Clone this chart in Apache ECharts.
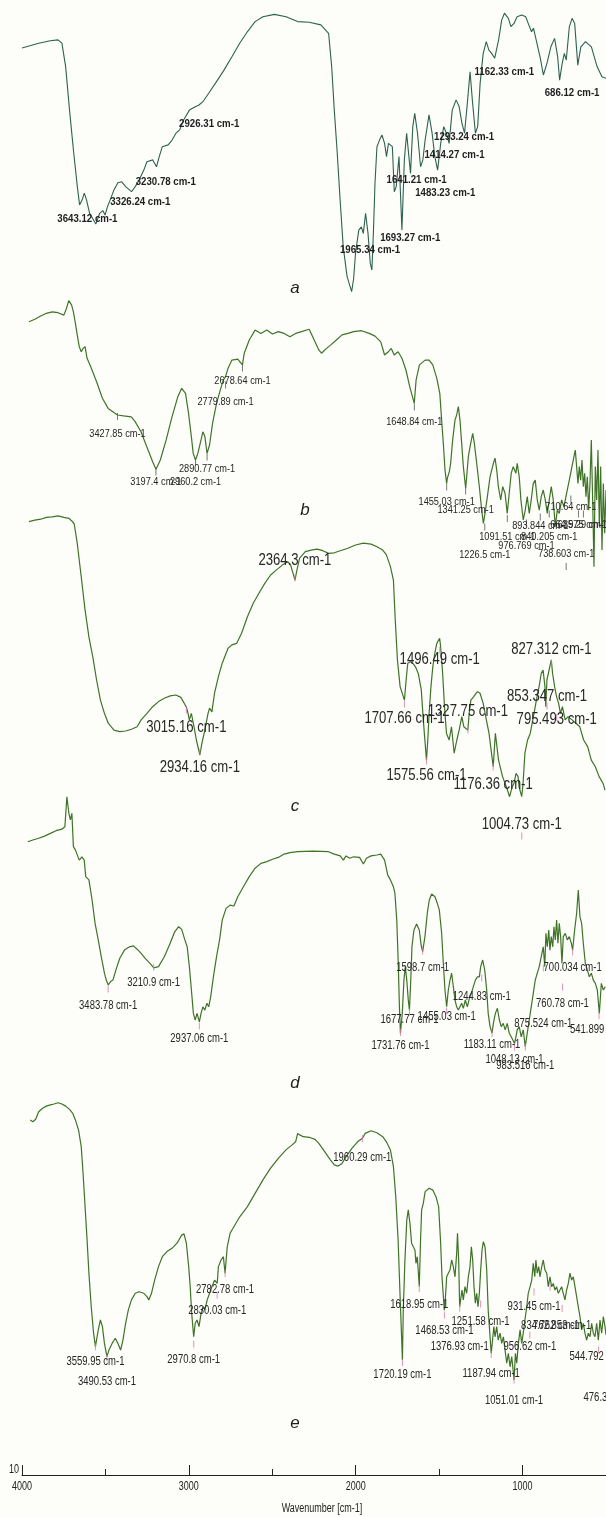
<!DOCTYPE html>
<html>
<head>
<meta charset="utf-8">
<script src="https://cdn.jsdelivr.net/npm/echarts@6/dist/echarts.min.js"></script>
<style>
  html, body { margin: 0; padding: 0; background: #fdfdfa; }
  #chart { width: 606px; height: 1517px; }
</style>
</head>
<body>
<div id="chart"></div>
<script>
// FTIR spectra, each point is [wavenumber (cm-1), relative transmittance]
const specA = [[4000,84],[3897,85.6],[3826,86.4],[3778,86.7],[3754,85.6],[3731,77.8],[3707,63.3],[3683,50],[3659,37.8],[3645,31.7],[3630,33.3],[3616,35.6],[3602,33.3],[3583,28.9],[3545,25.3],[3521,28.9],[3502,29.8],[3488,28.3],[3473,31.1],[3457,33.3],[3433,36.7],[3409,39.1],[3385,39.4],[3361,37.8],[3325,36.1],[3302,37.8],[3278,40],[3249,43.3],[3230,46.1],[3194,46.7],[3171,44.4],[3154,47.8],[3135,51.1],[3099,51.7],[3075,53.3],[3051,55.6],[3028,56.7],[3004,60],[2968,63.3],[2932,64.4],[2909,65],[2885,66.1],[2849,68.9],[2801,72.8],[2754,76.7],[2706,81.1],[2658,85.6],[2611,89.4],[2563,92.8],[2515,94.4],[2444,95.2],[2372,94.4],[2301,92.8],[2229,92.6],[2158,91.7],[2110,88.9],[2091,77.8],[2075,63.3],[2058,50],[2039,33.3],[2020,17.8],[1996,7.8],[1968,2.8],[1956,7],[1944,15.6],[1924,23.3],[1908,24.4],[1896,22.2],[1882,28.9],[1867,22.2],[1853,12.2],[1843,10],[1834,22.2],[1824,38.9],[1812,51.1],[1796,53.3],[1781,55],[1765,52.2],[1753,47.8],[1741,52.2],[1729,52.8],[1717,51.1],[1705,36.1],[1693,37.8],[1676,47.8],[1658,23.3],[1643,46.7],[1629,55.6],[1615,47.8],[1605,42.2],[1591,57.8],[1579,62.2],[1562,55.6],[1543,44.4],[1529,46.7],[1515,53.3],[1491,61.7],[1472,55.6],[1455,47.8],[1438,43.3],[1419,52.2],[1400,57.8],[1384,55.6],[1367,52.2],[1348,63.3],[1324,66.7],[1305,64.4],[1288,58.9],[1272,55.6],[1253,66.7],[1238,76.1],[1224,66.7],[1205,55.6],[1191,57.8],[1176,72.2],[1157,82.2],[1138,86.1],[1122,83.3],[1105,82.2],[1086,80.6],[1062,86.7],[1043,93.3],[1026,95.6],[1002,93.9],[986,91.1],[967,92.2],[948,94.4],[919,95],[895,94.4],[876,91.7],[859,89.4],[847,90.6],[828,86.1],[805,80.6],[786,75],[764,78.9],[740,84.4],[717,87.2],[698,81.1],[686,73.3],[670,78.9],[657,82.2],[645,80],[626,91.1],[609,93.9],[593,92.2],[574,78.3],[555,84.4],[526,86.1],[490,84.4],[455,77.8],[425,74.4],[400,73.9]];

const specB = [[3958,86.1],[3923,86.9],[3888,88],[3854,88.9],[3819,89.4],[3784,89.1],[3749,88.3],[3733,90.6],[3720,93.1],[3703,91.7],[3692,89.4],[3680,85.6],[3669,81.7],[3657,77.8],[3645,76.1],[3634,77.2],[3622,77.8],[3610,73.9],[3588,71.1],[3553,66.1],[3518,60.6],[3484,57.2],[3449,55.8],[3428,55],[3391,54.7],[3345,54.4],[3322,52.8],[3287,49.4],[3252,44.4],[3217,39.4],[3197,36.9],[3171,40],[3136,46.7],[3101,54.4],[3066,61.1],[3043,63.9],[3020,62.2],[3002,55.6],[2985,47.8],[2974,42.2],[2960,40],[2946,42.2],[2927,46.7],[2916,49.4],[2904,47.8],[2891,42.2],[2876,45],[2858,52.2],[2834,58.9],[2812,63.3],[2793,66.7],[2780,67.8],[2765,70.6],[2742,73.3],[2707,73.6],[2679,71.7],[2668,75.6],[2638,80],[2603,83.3],[2568,82.2],[2533,83.3],[2499,82],[2464,82.8],[2429,82.2],[2394,81.1],[2360,82.2],[2325,82.8],[2279,83.6],[2267,82.2],[2244,79.4],[2221,76.7],[2205,75.6],[2175,77.2],[2151,78.3],[2116,80],[2082,81.7],[2047,82.2],[2012,82.8],[1966,83.1],[1919,82.2],[1884,81.3],[1850,79.4],[1827,75],[1804,76.1],[1787,77.2],[1769,75],[1746,76.1],[1723,73.9],[1699,70],[1676,64.4],[1649,58.9],[1638,66.7],[1618,71.7],[1584,73.3],[1560,73.3],[1538,71.7],[1514,67.2],[1496,62.2],[1485,53.3],[1475,45.6],[1465,36.7],[1455,32.2],[1451,33.9],[1439,36.1],[1431,38.9],[1419,46.7],[1405,53.3],[1395,55],[1385,57.8],[1375,53.3],[1365,45.6],[1355,37.8],[1341,30.6],[1335,34.4],[1325,41.1],[1315,44.4],[1299,48.9],[1289,45.6],[1275,38.9],[1259,31.1],[1245,23.3],[1235,18.9],[1225,22.2],[1211,27.8],[1195,34.4],[1175,38.9],[1165,40.6],[1155,36.7],[1145,31.1],[1131,26.7],[1119,31.1],[1105,28.9],[1092,22.2],[1080,28.9],[1068,35.6],[1056,37.8],[1040,35.6],[1032,38.9],[1020,34.4],[1010,26.7],[996,20],[984,23.3],[972,27.8],[960,22.2],[948,26.7],[936,32.2],[924,33.3],[912,26.7],[900,23.3],[888,27.8],[876,30],[864,26.7],[852,22.2],[840,26.7],[828,31.1],[816,26.7],[804,17.8],[792,23.3],[780,22.2],[766,26.7],[752,24.4],[740,27.8],[728,31.1],[716,34.4],[704,37.8],[692,41.1],[684,43.3],[676,37.8],[668,32.2],[660,37.8],[652,33.3],[644,40],[636,31.1],[628,35.6],[620,27.8],[612,34.4],[604,23.3],[596,32.2],[588,46.7],[580,26.7],[572,4.4],[564,37.8],[556,26.7],[548,43.3],[540,17.8],[532,37.8],[524,10],[516,32.2],[508,15.6],[500,30]];

const specC = [[3958,92.8],[3923,93.3],[3888,93.6],[3854,94.2],[3819,94.4],[3784,94.7],[3749,94.2],[3719,93.9],[3703,93.1],[3687,92],[3669,85.6],[3645,74.4],[3622,63.3],[3599,54.4],[3576,47.8],[3553,40],[3530,33.3],[3506,28.9],[3483,25.6],[3449,23.3],[3414,22.8],[3379,23],[3344,23.6],[3310,24.4],[3286,26.7],[3251,28.9],[3217,31.1],[3182,32.8],[3147,33.9],[3112,34.7],[3078,35],[3048,34.2],[3015,31],[3005,28.9],[2997,26.7],[2985,28.9],[2969,24.4],[2955,20],[2934,15],[2922,18.9],[2904,23.3],[2885,28.9],[2876,30.6],[2862,29.4],[2846,35.6],[2823,41.1],[2800,45.6],[2765,50.6],[2742,51.7],[2714,52.2],[2684,55.6],[2649,61.1],[2614,65.6],[2580,68.9],[2545,72.2],[2510,75],[2475,76.7],[2440,78.3],[2406,79.4],[2390,78.3],[2376,75.6],[2364,73.3],[2352,76.7],[2336,80.6],[2302,82.8],[2267,83.3],[2232,83.6],[2197,83.1],[2163,82.2],[2128,82.4],[2093,83.1],[2047,83.9],[2001,85],[1954,85.6],[1908,85.3],[1873,84.4],[1838,83.3],[1816,81.7],[1792,77.8],[1774,73.3],[1764,61.1],[1750,46.7],[1734,37.8],[1708,33.3],[1698,40],[1688,45.6],[1672,46.1],[1658,45.6],[1642,44.4],[1625,42.2],[1607,36.7],[1595,26.7],[1576,13.3],[1568,20],[1560,28.9],[1549,37.8],[1538,44.4],[1526,48.9],[1514,52.2],[1497,53.9],[1491,51.1],[1479,42.2],[1468,31.1],[1456,22.2],[1440,20],[1426,24.4],[1410,15.6],[1394,20],[1380,23.3],[1364,27.8],[1352,24.4],[1328,23.3],[1320,28.9],[1310,33.3],[1294,34.4],[1271,36.1],[1255,35.6],[1236,32.2],[1217,26.7],[1201,22.2],[1176,11.1],[1163,22.2],[1144,13.3],[1120,7.8],[1097,4.4],[1078,1.1],[1062,4.4],[1051,5.6],[1039,8.9],[1027,7.8],[1021,4.4],[1005,1.1],[997,5.6],[986,15.6],[970,20],[954,22.2],[935,27.8],[917,33.3],[901,37.8],[888,42.2],[877,43.3],[866,37.8],[861,31.1],[854,40],[828,46.7],[820,42.2],[808,37.8],[796,34.4],[784,32.2],[773,28.9],[761,31.1],[745,26.7],[727,27.8],[703,26.7],[680,25.6],[657,24.4],[634,20],[610,17.8],[588,13.3],[564,11.1],[541,7.8],[518,5.6],[506,3.3]];

const specD = [[3965,79.4],[3935,80],[3900,80.6],[3865,81.3],[3830,82.2],[3796,83.1],[3761,83.6],[3743,84.4],[3731,94.4],[3719,88.9],[3710,86.7],[3701,88.9],[3692,77.8],[3680,76.7],[3669,76.1],[3657,73.3],[3641,74.4],[3627,73.3],[3618,67.8],[3599,66.7],[3580,60],[3562,52.2],[3543,46.7],[3525,41.1],[3506,35.6],[3495,33.3],[3483,31.7],[3469,32.8],[3455,33.3],[3437,36.7],[3414,40.6],[3386,43.3],[3356,44.4],[3332,44.7],[3310,43.6],[3286,42.2],[3263,40.6],[3233,38.9],[3210,37.4],[3182,37.8],[3147,41.1],[3112,45.6],[3085,49.4],[3061,51.1],[3043,50.2],[3024,46.7],[3010,44.4],[2997,37.8],[2983,28.9],[2973,22.2],[2962,20],[2951,22.2],[2937,19.4],[2927,22.2],[2916,24.4],[2904,23.3],[2892,25.6],[2881,24.4],[2869,27.8],[2853,34.4],[2834,41.1],[2816,46.7],[2800,53.3],[2777,57.2],[2753,58.3],[2730,58],[2707,61.1],[2673,64.4],[2638,67.8],[2603,70.6],[2568,72.2],[2533,72.8],[2499,73.6],[2464,74.2],[2429,75.3],[2394,75.8],[2348,76.1],[2302,76.2],[2255,76.3],[2209,76.2],[2163,76.1],[2128,75.3],[2093,74.7],[2074,73.3],[2058,74.7],[2036,73.9],[2012,74.4],[1977,74.2],[1954,72],[1936,73.9],[1908,74.7],[1873,75],[1850,75.3],[1827,73.3],[1808,68.3],[1792,66.7],[1774,64.4],[1765,62.2],[1754,53.3],[1745,38.9],[1738,24.4],[1732,15.6],[1721,22.2],[1711,33.3],[1703,37.8],[1694,33.3],[1685,26.7],[1678,23.3],[1670,33.3],[1663,44.4],[1651,50],[1635,52],[1619,50],[1608,45],[1599,42.8],[1585,47.8],[1571,55.6],[1559,60],[1545,62],[1525,61.1],[1511,58.9],[1499,56.7],[1485,48.9],[1475,38.9],[1465,30],[1455,24.4],[1445,30],[1435,33.3],[1425,35.6],[1415,31.1],[1405,26.7],[1395,24.4],[1385,23.3],[1375,23.9],[1365,25.6],[1355,23.9],[1343,26.7],[1331,24.4],[1319,27.2],[1307,28.9],[1295,31.1],[1283,33.3],[1271,34.4],[1259,34.4],[1251,37.8],[1239,40],[1227,36.7],[1215,30],[1206,22.2],[1195,17.8],[1183,15.6],[1175,18.9],[1163,22.2],[1151,23.9],[1139,20],[1128,17.8],[1116,18.9],[1104,16.7],[1092,18.9],[1080,15.6],[1068,14.4],[1048,12.2],[1040,14.4],[1032,16.7],[1020,17.8],[1008,14.4],[996,16.7],[984,11.1],[972,15.6],[960,20],[948,24.4],[936,28.9],[924,33.3],[912,35.6],[900,37.8],[888,41.1],[876,44.4],[867,37.8],[860,48.9],[852,44.4],[843,50],[836,43.3],[828,47.8],[819,44.4],[812,51.1],[804,46.7],[796,53.3],[788,45.6],[780,52.2],[772,47.8],[764,38.9],[756,47.8],[744,48.9],[732,46.7],[720,47.8],[708,45.6],[700,43.3],[688,50],[676,55.6],[666,63.3],[656,54.4],[646,52.2],[636,45.6],[624,38.9],[612,36.7],[600,34.4],[588,35.6],[576,33.3],[564,32.2],[552,30],[540,22.2],[528,32.2],[516,30],[504,31.1]];

const specE = [[3951,86.7],[3935,86.1],[3918,86.9],[3900,89.4],[3877,90.6],[3854,91.3],[3830,91.7],[3808,92],[3784,92.4],[3761,92],[3738,91.3],[3715,90.2],[3696,88.9],[3680,86.7],[3661,83.3],[3645,77.8],[3634,68.9],[3622,57.8],[3610,46.7],[3599,35.6],[3585,24.4],[3571,15.6],[3560,11.1],[3543,16.7],[3530,20],[3518,17.8],[3506,12.2],[3491,7.8],[3479,10],[3460,12.2],[3441,13.9],[3425,12.2],[3409,10],[3395,13.3],[3379,18.9],[3363,23.3],[3344,26.7],[3321,28.9],[3298,29.4],[3270,28.9],[3251,27.8],[3240,26.7],[3224,28.9],[3205,33.3],[3182,37.8],[3159,41.1],[3131,42.8],[3101,43.9],[3071,45.6],[3043,48.3],[3029,48.7],[3015,45.6],[3001,37.8],[2992,31.1],[2983,22.2],[2971,14.4],[2962,18.9],[2951,20],[2939,17.8],[2927,22.2],[2913,24.4],[2904,23.3],[2890,26.7],[2876,28.9],[2862,31.1],[2846,33.3],[2830,32.2],[2823,37.8],[2807,40],[2793,41.1],[2783,35.6],[2770,44.4],[2753,48.9],[2730,51.1],[2695,54.4],[2649,57.8],[2603,62.2],[2556,66.7],[2510,70.6],[2464,73.9],[2418,76.7],[2383,78.3],[2360,79.4],[2348,82.2],[2336,81.7],[2314,81.1],[2279,80.9],[2244,80.2],[2221,78.9],[2186,76.1],[2151,73.3],[2128,71.7],[2105,71.3],[2082,72.2],[2058,74.4],[2023,77.2],[1989,79.4],[1960,80.6],[1943,82.2],[1908,83.1],[1873,82.4],[1838,81.1],[1816,79.4],[1792,76.7],[1774,71.1],[1760,61.1],[1746,46.7],[1734,27.8],[1720,6.7],[1715,23.3],[1705,40],[1694,53.3],[1685,56.7],[1675,52.2],[1665,45.6],[1655,44.4],[1645,43.3],[1639,38.9],[1631,41.1],[1619,31.1],[1612,45.6],[1605,56.7],[1595,58.9],[1584,62.8],[1560,63.9],[1538,63.3],[1519,61.1],[1503,57.8],[1491,45.6],[1483,34.4],[1469,23.3],[1462,27.8],[1455,34.4],[1445,35.6],[1435,36.7],[1425,40],[1415,37.8],[1405,34.4],[1395,42.2],[1390,48.9],[1383,40],[1377,24.4],[1363,30],[1355,26.7],[1345,31.1],[1335,28.9],[1325,34.4],[1315,37.8],[1307,44.4],[1299,40],[1291,31.1],[1283,25.6],[1275,28.9],[1267,24.4],[1259,28.9],[1251,36.7],[1243,43.3],[1235,46.1],[1225,44.4],[1215,36.7],[1206,23.3],[1188,8.9],[1180,13.3],[1172,17.8],[1165,14.4],[1155,17.8],[1146,13.3],[1135,15.6],[1125,12.2],[1115,14.4],[1105,10],[1095,5.6],[1085,8.9],[1075,4.4],[1065,7.8],[1051,0],[1043,8.9],[1035,5.6],[1025,12.2],[1015,16.7],[1005,12.2],[996,15.6],[986,20],[975,24.4],[966,28.9],[955,31.1],[945,33.3],[936,38.9],[927,34.4],[920,40],[912,35.6],[903,37.8],[896,34.4],[885,37.8],[876,40],[866,36.7],[855,35.6],[846,31.1],[836,34.4],[826,31.1],[816,32.2],[806,30],[796,31.1],[786,28.9],[776,30],[766,31.1],[756,28.9],[746,26.7],[736,30],[726,32.2],[716,35.6],[706,33.3],[696,34.4],[686,31.1],[676,27.8],[666,24.4],[656,21.1],[646,16.7],[636,18.9],[626,15.6],[616,13.3],[606,15.6],[596,14.4],[586,18.9],[576,15.6],[566,14.4],[556,18.9],[546,13.3],[536,20],[526,15.6],[516,21.1],[506,17.8],[500,15]];

// peak annotations: [wavenumber, label level]
const peaksA = [[3643.12,27.2],[3326.24,32.6],[3230.78,39.4],[2926.31,58.6],[1965.34,16.7],[1693.27,20.6],[1641.21,40],[1483.23,35.6],[1414.27,48.3],[1293.24,54.4],[1162.33,76.1],[686.12,68.9]];
// peak annotations: [wavenumber, tick level, label level]
const peaksB = [[3427.85,54.5,48.7],[3197.4,36,32.6],[2960.2,39.3,32.8],[2890.77,41,37],[2779.89,65,59.4],[2678.64,70.7,66.4],[1648.84,57.7,52.6],[1455.03,31,26.1],[1341.25,29.7,23.3],[1226.5,17.7,8.3],[1091.51,20.5,14.4],[976.769,19,11.3],[893.844,21,18],[840.205,22,14.4],[738.603,4.5,8.6],[710.64,27,24.4],[664.975,22,18.3],[635.29,22,18.3]];
const peaksC = [[2364.3,74,79.7],[3015.16,30,24.1],[2934.16,16,10.8],[1496.49,50,46.7],[1707.66,32,27],[1575.56,13,8.3],[1327.75,23.3,29.4],[1176.36,11,5],[1004.73,-12,-8.3],[827.312,45.5,50],[853.347,31.3,34.4],[795.493,27.5,26.7]];
const peaksD = [[3483.78,30.3,24.7],[3210.9,37.6,32.4],[2937.06,18,13.9],[1598.7,43,37.6],[1677.77,22.7,20],[1731.76,15.8,11.4],[1455.03,23,21.1],[1244.83,34,27.8],[1183.11,15.5,11.7],[1048.13,11,6.7],[983.516,11,4.7],[875.524,37.3,18.7],[760.78,31,25.6],[700.034,42.7,37.6],[541.899,21.5,16.7]];
const peaksE = [[3559.95,11.1,6.1],[3490.53,7.3,-0.6],[2970.8,12,6.9],[2782.78,35.5,30.2],[2830.03,28.3,23.1],[1960.29,80.5,74.2],[1720.19,5.8,1.7],[1618.95,30.5,25],[1468.53,21.7,16.4],[1376.93,24,11.3],[1251.58,25.3,19.4],[1187.94,8.5,2.2],[1051.01,0,-7],[956.62,15,11.1],[931.45,29.3,24.4],[834.762,31,18.3],[762.853,23.8,18.3],[544.792,10,7.8],[476.33,-3,-6]];

const panelNames = ['a', 'b', 'c', 'd', 'e'];
const majorTicks = [1000, 2000, 3000, 4000];
const minorTicks = [500, 1500, 2500, 3500];
const axisTitle = 'Wavenumber [cm-1]';
const axisCornerLabel = '10';

// layout and styling
const SANS = "'Liberation Sans', Arial, sans-serif";
const panelTop = [0, 280, 500, 780, 1080];
const panelLetterPos = [[295, 288], [305, 510], [295, 806], [295, 1083], [295, 1423]];
const labelShiftA = [7.5, 9, 19, 13, 18, 14, 12, 15, 13, 3, 22, 12.5];
const lineColorA = '#2d6252';
const lineColor = '#3f7428';
// condensed label styles: [font, horizontal squeeze]
const styleA = ['bold 11.5px ' + SANS, 0.84];
const styleB = ['11.5px ' + SANS, 0.8];
const styleC = ['16px ' + SANS, 0.82];
const styleDE = ['12.5px ' + SANS, 0.76];
const styleAxis = ['12.5px ' + SANS, 0.72];

const spectra = [specA, specB, specC, specD, specE];

const grids = panelTop.map(t => ({ left: 22, right: 0, top: t, height: 360 }));
grids.push({ left: 22, right: 0, top: 1440, height: 35 });

const xAxes = panelTop.map((t, i) => ({
  gridIndex: i, type: 'value', min: i === 0 ? 400 : 500, max: 4000, inverse: true, show: false
}));
xAxes.push({
  gridIndex: 5, type: 'value', min: 500, max: 4000, inverse: true, position: 'bottom',
  axisLine: { show: true, lineStyle: { color: '#222', width: 1 } },
  axisTick: { show: true, inside: true, length: 10, customValues: majorTicks, lineStyle: { color: '#222', width: 1 } },
  axisLabel: { show: false },
  splitLine: { show: false }
});
xAxes.push({
  gridIndex: 5, type: 'value', min: 500, max: 4000, inverse: true, position: 'bottom',
  axisLine: { show: false },
  axisTick: { show: true, inside: true, length: 6, customValues: minorTicks, lineStyle: { color: '#222', width: 1 } },
  axisLabel: { show: false },
  splitLine: { show: false }
});

const yAxes = panelTop.map((t, i) => ({ gridIndex: i, type: 'value', min: -20, max: 100, show: false }));
yAxes.push({ gridIndex: 5, type: 'value', min: 0, max: 1, show: false });

const series = [];
spectra.forEach((spec, i) => {
  series.push({
    type: 'line', xAxisIndex: i, yAxisIndex: i, data: spec, showSymbol: false, smooth: false,
    lineStyle: { color: i === 0 ? lineColorA : lineColor, width: i === 0 ? 1.1 : 1.2 },
    silent: true, z: 2
  });
});

// small tick under each annotated band
const annotated = [[1, peaksB, '#555555', styleB], [2, peaksC, '#d77aa8', styleC], [3, peaksD, '#d77aa8', styleDE], [4, peaksE, '#d77aa8', styleDE]];
annotated.forEach(([i, peaks, tickColor]) => {
  series.push({
    type: 'scatter', xAxisIndex: i, yAxisIndex: i, clip: false, silent: true, z: 4,
    symbol: 'rect', symbolSize: [1, 7], itemStyle: { color: tickColor },
    data: peaks.map(p => [p[0], p[1]])
  });
});

const chart = echarts.init(document.getElementById('chart'), null, { renderer: 'canvas' });
chart.setOption({
  backgroundColor: '#fdfdfa',
  animation: false,
  grid: grids,
  xAxis: xAxes,
  yAxis: yAxes,
  series: series
});

// text drawn in a narrow face: placed from data through the axes, then squeezed horizontally
function condensedText(text, x, y, style, color) {
  return {
    type: 'text', x: x, y: y, scaleX: style[1], silent: true, z: 10,
    style: { text: text, font: style[0], fill: color, textAlign: 'center', textVerticalAlign: 'middle' }
  };
}

const graphics = [];
peaksA.forEach((p, k) => {
  const pt = chart.convertToPixel({ xAxisIndex: 0, yAxisIndex: 0 }, [p[0], p[1]]);
  graphics.push(condensedText(p[0] + ' cm-1', pt[0] + labelShiftA[k], pt[1], styleA, '#1e1e1e'));
});
annotated.forEach(([i, peaks, tickColor, st]) => {
  peaks.forEach(p => {
    const pt = chart.convertToPixel({ xAxisIndex: i, yAxisIndex: i }, [p[0], p[2]]);
    graphics.push(condensedText(p[0] + ' cm-1', pt[0], pt[1], st, '#262626'));
  });
});
majorTicks.forEach(v => {
  const px = chart.convertToPixel({ xAxisIndex: 5 }, v);
  graphics.push(condensedText(String(v), px, 1487, styleAxis, '#222'));
});
graphics.push(condensedText(axisTitle, 322, 1509, styleAxis, '#222'));
graphics.push(condensedText(axisCornerLabel, 14, 1470, styleAxis, '#222'));
panelNames.forEach((n, i) => {
  graphics.push({
    type: 'text', x: panelLetterPos[i][0], y: panelLetterPos[i][1], silent: true,
    style: { text: n, font: 'italic 17px ' + SANS, fill: '#1e1e1e', textAlign: 'center', textVerticalAlign: 'middle' }
  });
});

chart.setOption({ graphic: graphics });
</script>
</body>
</html>
